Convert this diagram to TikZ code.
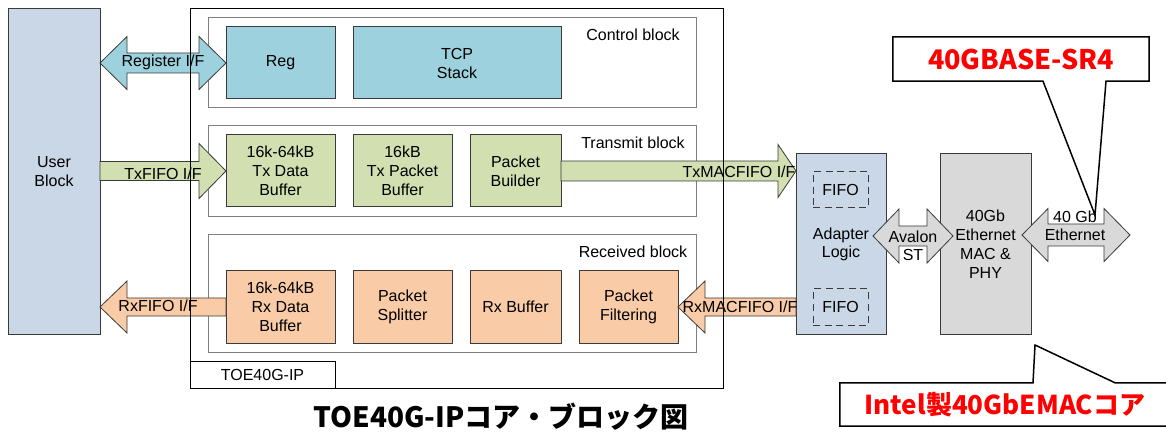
\documentclass[tikz,border=0pt]{standalone}
\usepackage{fontspec}
\setmainfont{Liberation Sans}
\newfontfamily\jpfont{Noto Sans CJK JP}
\usetikzlibrary{calc}

\definecolor{userblue}{HTML}{C9D7E7}
\definecolor{ctrlcyan}{HTML}{9CD1DD}
\definecolor{txgreen}{HTML}{D1DFB1}
\definecolor{rxpeach}{HTML}{F9CBA6}
\definecolor{macgray}{HTML}{D9D9D9}
\definecolor{edge}{HTML}{3A3A3A}
\definecolor{blockedge}{HTML}{7F7F7F}
\definecolor{calred}{HTML}{FF0000}

\tikzset{
  unit/.style={draw=edge, line width=1pt, outer sep=0pt, inner sep=2pt, align=center},
  blk/.style={draw=blockedge, line width=1pt, outer sep=0pt},
  frame/.style={draw=black, line width=1pt, outer sep=0pt},
  fifobox/.style={draw=edge, line width=1pt, dash pattern=on 7pt off 4.5pt, outer sep=0pt},
  fatarrow/.style={draw=edge, line width=0.8pt, line join=miter},
  lbl/.style={inner sep=0pt, align=center},
  calloutline/.style={draw=black, line width=1.5pt, line join=miter},
  redtext/.style={inner sep=0pt, text=calred},
  % fat one-headed arrow: head length, head half-width, shaft half-width
  single fat/.style n args={3}{to path={
    let \p1=(\tikztostart), \p2=(\tikztotarget),
        \n1={((\x2>\x1)*2-1)*#1} in
    (\x1,\y2+#3pt) -- (\x2-\n1*1pt,\y2+#3pt) -- (\x2-\n1*1pt,\y2+#2pt)
    -- (\x2,\y2) -- (\x2-\n1*1pt,\y2-#2pt) -- (\x2-\n1*1pt,\y2-#3pt)
    -- (\x1,\y2-#3pt) -- cycle}},
  % fat two-headed arrow
  double fat/.style n args={3}{to path={
    let \p1=(\tikztostart), \p2=(\tikztotarget),
        \n1={((\x2>\x1)*2-1)*#1} in
    (\x1,\y2) -- (\x1+\n1*1pt,\y2+#2pt) -- (\x1+\n1*1pt,\y2+#3pt)
    -- (\x2-\n1*1pt,\y2+#3pt) -- (\x2-\n1*1pt,\y2+#2pt) -- (\x2,\y2)
    -- (\x2-\n1*1pt,\y2-#2pt) -- (\x2-\n1*1pt,\y2-#3pt)
    -- (\x1+\n1*1pt,\y2-#3pt) -- (\x1+\n1*1pt,\y2-#2pt) -- cycle}},
}

\begin{document}
\begin{tikzpicture}[x=1pt,y=-1pt,font=\fontsize{16}{19}\selectfont]
\clip (0,0) rectangle (1166,435);

% user side
\node[unit, fill=userblue, minimum width=92pt, minimum height=325pt] (user) at (54,171.5) {User\\Block};

% sub-blocks of the IP core
\node[blk, minimum width=488pt, minimum height=90pt] (ctrl) at (452,63) {};
\node[blk, minimum width=488pt, minimum height=91pt] (txb) at (452,171.5) {};
\node[blk, minimum width=488pt, minimum height=117pt] (rxb) at (452,293.5) {};
\node[lbl] (ctrlname) at (633,35) {Control block};
\node[lbl] (txbname) at (633,143) {Transmit block};
\node[lbl] (rxbname) at (633,252) {Received block};

% control units
\node[unit, fill=ctrlcyan, minimum width=109pt, minimum height=72pt] (reg) at (280.5,63) {Reg};
\node[unit, fill=ctrlcyan, minimum width=208pt, minimum height=72pt] (tcp) at (457,63) {TCP\\Stack};

% transmit units
\node[unit, fill=txgreen, minimum width=109pt, minimum height=72pt] (txdata) at (280.5,171) {16k-64kB\\Tx Data\\Buffer};
\node[unit, fill=txgreen, minimum width=99pt, minimum height=72pt] (txpkt) at (402.5,171) {16kB\\Tx Packet\\Buffer};
\node[unit, fill=txgreen, minimum width=91pt, minimum height=72pt] (pb) at (515.5,171) {Packet\\Builder};

% receive units
\node[unit, fill=rxpeach, minimum width=109pt, minimum height=72pt] (rxdata) at (280.5,307) {16k-64kB\\Rx Data\\Buffer};
\node[unit, fill=rxpeach, minimum width=99pt, minimum height=72pt] (split) at (402.5,307) {Packet\\Splitter};
\node[unit, fill=rxpeach, minimum width=91pt, minimum height=72pt] (rxbuf) at (515.5,307) {Rx Buffer};
\node[unit, fill=rxpeach, minimum width=99pt, minimum height=72pt] (pf) at (628.5,307) {Packet\\Filtering};

% adapter and MAC
\node[unit, fill=userblue, minimum width=90pt, minimum height=180pt] (adapter) at (841,244) {Adapter\\[-1pt]Logic};
\node[fifobox, minimum width=55pt, minimum height=36pt] (fifotx) at (840.5,190) {FIFO};
\node[fifobox, minimum width=55pt, minimum height=36pt] (fiforx) at (840.5,307) {FIFO};
\node[unit, fill=macgray, minimum width=91pt, minimum height=180pt] (mac) at (985.5,244) {40Gb\\Ethernet\\MAC \&\\PHY};

% interfaces
\draw[fatarrow, fill=ctrlcyan] (user.east |- reg.west) to[double fat={27}{26.5}{10}] (reg.west);
\draw[fatarrow, fill=txgreen] (user.east |- txdata.west) to[single fat={27}{27.5}{9.5}] (txdata.west);
\draw[fatarrow, fill=txgreen] (pb.east) to[single fat={18}{26.5}{10}] (adapter.west |- pb.east);
\draw[fatarrow, fill=rxpeach] (rxdata.west) to[single fat={27}{26}{9}] (user.east |- rxdata.west);
\draw[fatarrow, fill=rxpeach] (adapter.west |- pf.east) to[single fat={27}{26}{9}] (pf.east);
\draw[fatarrow, fill=macgray] ([xshift=-13pt,yshift=8pt]adapter.east) to[double fat={26}{27}{10}] ([xshift=13pt,yshift=8pt]mac.west);
\coordinate (ethend) at (1130,235);
\draw[fatarrow, fill=macgray] ([xshift=-9pt,yshift=9pt]mac.east) to[double fat={26}{26.5}{11}] (ethend);

\node[lbl] (regif) at (163,62) {Register I/F};
\node[lbl] (txif) at (163,174) {TxFIFO I/F};
\node[lbl] (txmacif) at (739,172) {TxMACFIFO I/F};
\node[lbl] (rxif) at (158,306) {RxFIFO I/F};
\node[lbl] (rxmacif) at (740,307) {RxMACFIFO I/F};
\node[lbl, font=\fontsize{16}{18}\selectfont] (avl) at (913,246) {Avalon\\ST};
\node[lbl, font=\fontsize{16}{18}\selectfont] (ethl) at (1075,226) {40 Gb\\Ethernet};

% IP core frame
\node[frame, minimum width=533pt, minimum height=379pt] (toe) at (456.5,198.5) {};
\node[frame, minimum width=145pt, minimum height=27pt, inner sep=0pt] (toename) at (262.5,374.5) {TOE40G-IP};

% caption
\node[inner sep=0pt, font=\jpfont\bfseries\fontsize{28}{30}\selectfont] (title) at (501,417) {TOE40G-IPコア・ブロック図};

% callouts
\node[redtext, minimum width=256pt, minimum height=44pt, font=\jpfont\bfseries\fontsize{27}{30}\selectfont] (calla) at (1021,59) {40GBASE-SR4};
\coordinate (tipa) at (1095,215);
\draw[calloutline] (calla.north west) -| (calla.south east) -- ([xshift=85pt]calla.south) -- (tipa) -- ([xshift=22pt]calla.south) -- (calla.south west) -- cycle;

\node[redtext, minimum width=330pt, minimum height=43pt, font=\jpfont\bfseries\fontsize{26}{30}\selectfont] (callb) at (1005,404.5) {Intel製40GbEMACコア};
\coordinate (tipb) at (1035,345);
\draw[calloutline] (callb.south west) |- ([xshift=28pt]callb.north) -- (tipb) -- ([xshift=110pt]callb.north) -| (callb.south east) -- cycle;
\end{tikzpicture}
\end{document}
